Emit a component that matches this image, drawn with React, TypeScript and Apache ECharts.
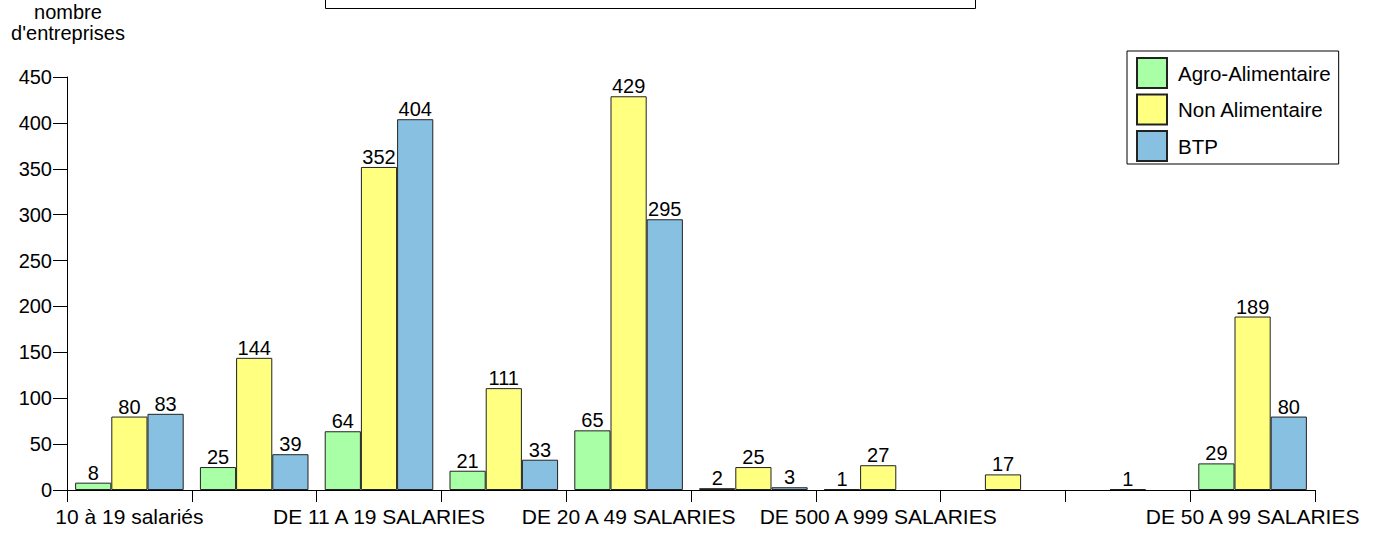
import React, { useEffect, useRef } from "react";
import * as echarts from "echarts";

const categories = [
  "10 à 19 salariés",
  "DE 100 A 199 SALARIES",
  "DE 11 A 19 SALARIES",
  "DE 200 A 499 SALARIES",
  "DE 20 A 49 SALARIES",
  "DE 1000 A 1999 SALARIES",
  "DE 500 A 999 SALARIES",
  "DE 2000 A 4999 SALARIES",
  "PLUS DE 5000 SALARIES",
  "DE 50 A 99 SALARIES",
];
const shownLabels = [0, 2, 4, 6, 9];
const agro = [8, 25, 64, 21, 65, 2, 1, null, null, 29];
const nonAlim = [80, 144, 352, 111, 429, 25, 27, 17, 1, 189];
const btp = [83, 39, 404, 33, 295, 3, null, null, null, 80];
const seriesNames = ["Agro-Alimentaire", "Non Alimentaire", "BTP"];
const colors = ["#A9FFA5", "#FFFF80", "#88C0E2"];
const yTicks = { min: 0, max: 450, interval: 50 };
const yName = "nombre\nd'entreprises";

const FONT = "'Liberation Sans', Arial, sans-serif";

export default function App() {
  const ref = useRef<HTMLDivElement>(null);
  useEffect(() => {
    if (!ref.current) return;
    const chart = echarts.init(ref.current, null, { renderer: "svg" });
    const data = [agro, nonAlim, btp];
    chart.setOption({
      animation: false,
      backgroundColor: "#fff",
      textStyle: { fontFamily: FONT },
      grid: { left: 67, right: 64, top: 77, bottom: 44, containLabel: false },
      legend: {
        orient: "vertical",
        left: 1127,
        top: 51,
        padding: [6, 8, 2, 9],
        itemWidth: 30,
        itemHeight: 30,
        itemGap: 4.5,
        borderColor: "#000",
        borderWidth: 1,
        backgroundColor: "#fff",
        icon: "rect",
        textStyle: { fontSize: 20.5, color: "#000", fontFamily: FONT, padding: [0, 0, 0, 6] },
        data: seriesNames,
      },
      xAxis: {
        type: "category",
        data: categories,
        axisLine: { show: true, lineStyle: { color: "#000", width: 1 } },
        axisTick: { show: true, interval: 0, length: 12, lineStyle: { color: "#000" } },
        axisLabel: {
          interval: (i: number) => shownLabels.includes(i),
          fontSize: 21,
          color: "#000",
          fontFamily: FONT,
          margin: 16,
        },
        splitLine: { show: false },
      },
      yAxis: {
        type: "value",
        min: yTicks.min,
        max: yTicks.max,
        interval: yTicks.interval,
        axisLine: { show: true, lineStyle: { color: "#000", width: 1 } },
        axisTick: { show: true, length: 14, lineStyle: { color: "#000" } },
        axisLabel: { fontSize: 20, color: "#000", fontFamily: FONT, margin: 15 },
        splitLine: { show: false },
      },
      series: seriesNames.map((name, i) => ({
        name,
        type: "bar",
        data: data[i],
        barGap: "0%",
        barCategoryGap: "13%",
        itemStyle: { color: colors[i], borderColor: "#222", borderWidth: 1 },
        label: {
          show: true,
          position: "top",
          distance: 0,
          fontSize: 20,
          color: "#000",
          fontFamily: FONT,
        },
      })),
      graphic: [
        {
          type: "rect",
          shape: { x: 325.5, y: -20, width: 650, height: 28.5 },
          style: { fill: "none", stroke: "#000", lineWidth: 1 },
        },
        {
          type: "text",
          x: 68,
          y: 1,
          style: {
            text: yName,
            textAlign: "center",
            fontSize: 20,
            lineHeight: 21,
            fill: "#000",
            fontFamily: FONT,
          },
        },
      ],
    });
    return () => chart.dispose();
  }, []);
  return <div ref={ref} style={{ width: 1379, height: 534, position: "absolute", left: 0, top: 0 }} />;
}
